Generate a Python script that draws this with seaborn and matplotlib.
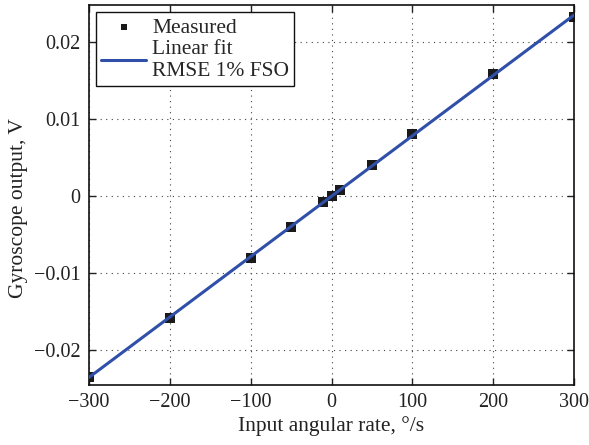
import numpy as np
import pandas as pd
import matplotlib
matplotlib.use("Agg")
import matplotlib.pyplot as plt
import seaborn as sns

# Data
rate = [-300, -200, -100, -50, -10, 0, 10, 50, 100, 200, 300]
output = [-0.0234, -0.0158, -0.0080, -0.0040, -0.0008, 0.0000, 0.0008, 0.0040, 0.0080, 0.0158, 0.0233]
x_ticks = [-300, -200, -100, 0, 100, 200, 300]
y_ticks = [-0.02, -0.01, 0, 0.01, 0.02]
y_tick_labels = ["\u22120.02", "\u22120.01", "0", "0.01", "0.02"]

sns.set_theme(style="white")
plt.rcParams["font.family"] = ["Liberation Serif", "DejaVu Serif"]

df = pd.DataFrame({"rate": rate, "output": output})
coef = np.polyfit(df["rate"], df["output"], 1)
fit_x = [-300, 300]
fit_df = pd.DataFrame({"rate": fit_x, "output": np.polyval(coef, fit_x)})

fig = plt.figure(figsize=(5.89, 4.45), dpi=100)
ax = fig.add_axes([89/589, 1 - 385/445, (574-89)/589, (385-5)/445])

sns.lineplot(data=fit_df, x="rate", y="output", ax=ax, color="#2f4fa8", lw=2.2,
             label="Linear fit\nRMSE 1% FSO", zorder=3)
sns.scatterplot(data=df, x="rate", y="output", ax=ax, marker="s", s=42, color="#1a1a1a",
                edgecolor="#1a1a1a", linewidth=0, label="Measured", zorder=2)

ax.set_xlim(-300, 300)
ax.set_ylim(-0.0245, 0.0248)
ax.set_xticks(x_ticks)
ax.set_xticklabels([str(t).replace("-", "\u2212") for t in x_ticks])
ax.set_yticks(y_ticks)
ax.set_yticklabels(y_tick_labels)
ax.tick_params(direction="in", length=5, width=1, top=True, right=True,
               labelsize=14.5, colors="#222222", bottom=True, left=True, pad=6)
ax.grid(True, linestyle=(0, (1, 4)), color="#444444", lw=0.8)
for s in ax.spines.values():
    s.set_color("#111111")
    s.set_linewidth(1.2)
ax.set_xlabel("Input angular rate, \u00b0/s", fontsize=15.5, color="#222222", labelpad=3)
ax.set_ylabel("Gyroscope output, V", fontsize=15.5, color="#222222")
ax.yaxis.set_label_coords(-0.125, 0.466)

handles, labels = ax.get_legend_handles_labels()
order = [labels.index("Measured"), labels.index("Linear fit\nRMSE 1% FSO")]
leg = ax.legend([handles[i] for i in order], [labels[i] for i in order],
                loc="upper left", fontsize=15.5, frameon=True, fancybox=False,
                edgecolor="#111111", framealpha=1, borderaxespad=0.33,
                handlelength=2.05, labelspacing=0.12, borderpad=0.25, handletextpad=0.3,
                markerscale=0.65)
leg.get_frame().set_linewidth(1.0)

fig.savefig("out.png", dpi=100)
